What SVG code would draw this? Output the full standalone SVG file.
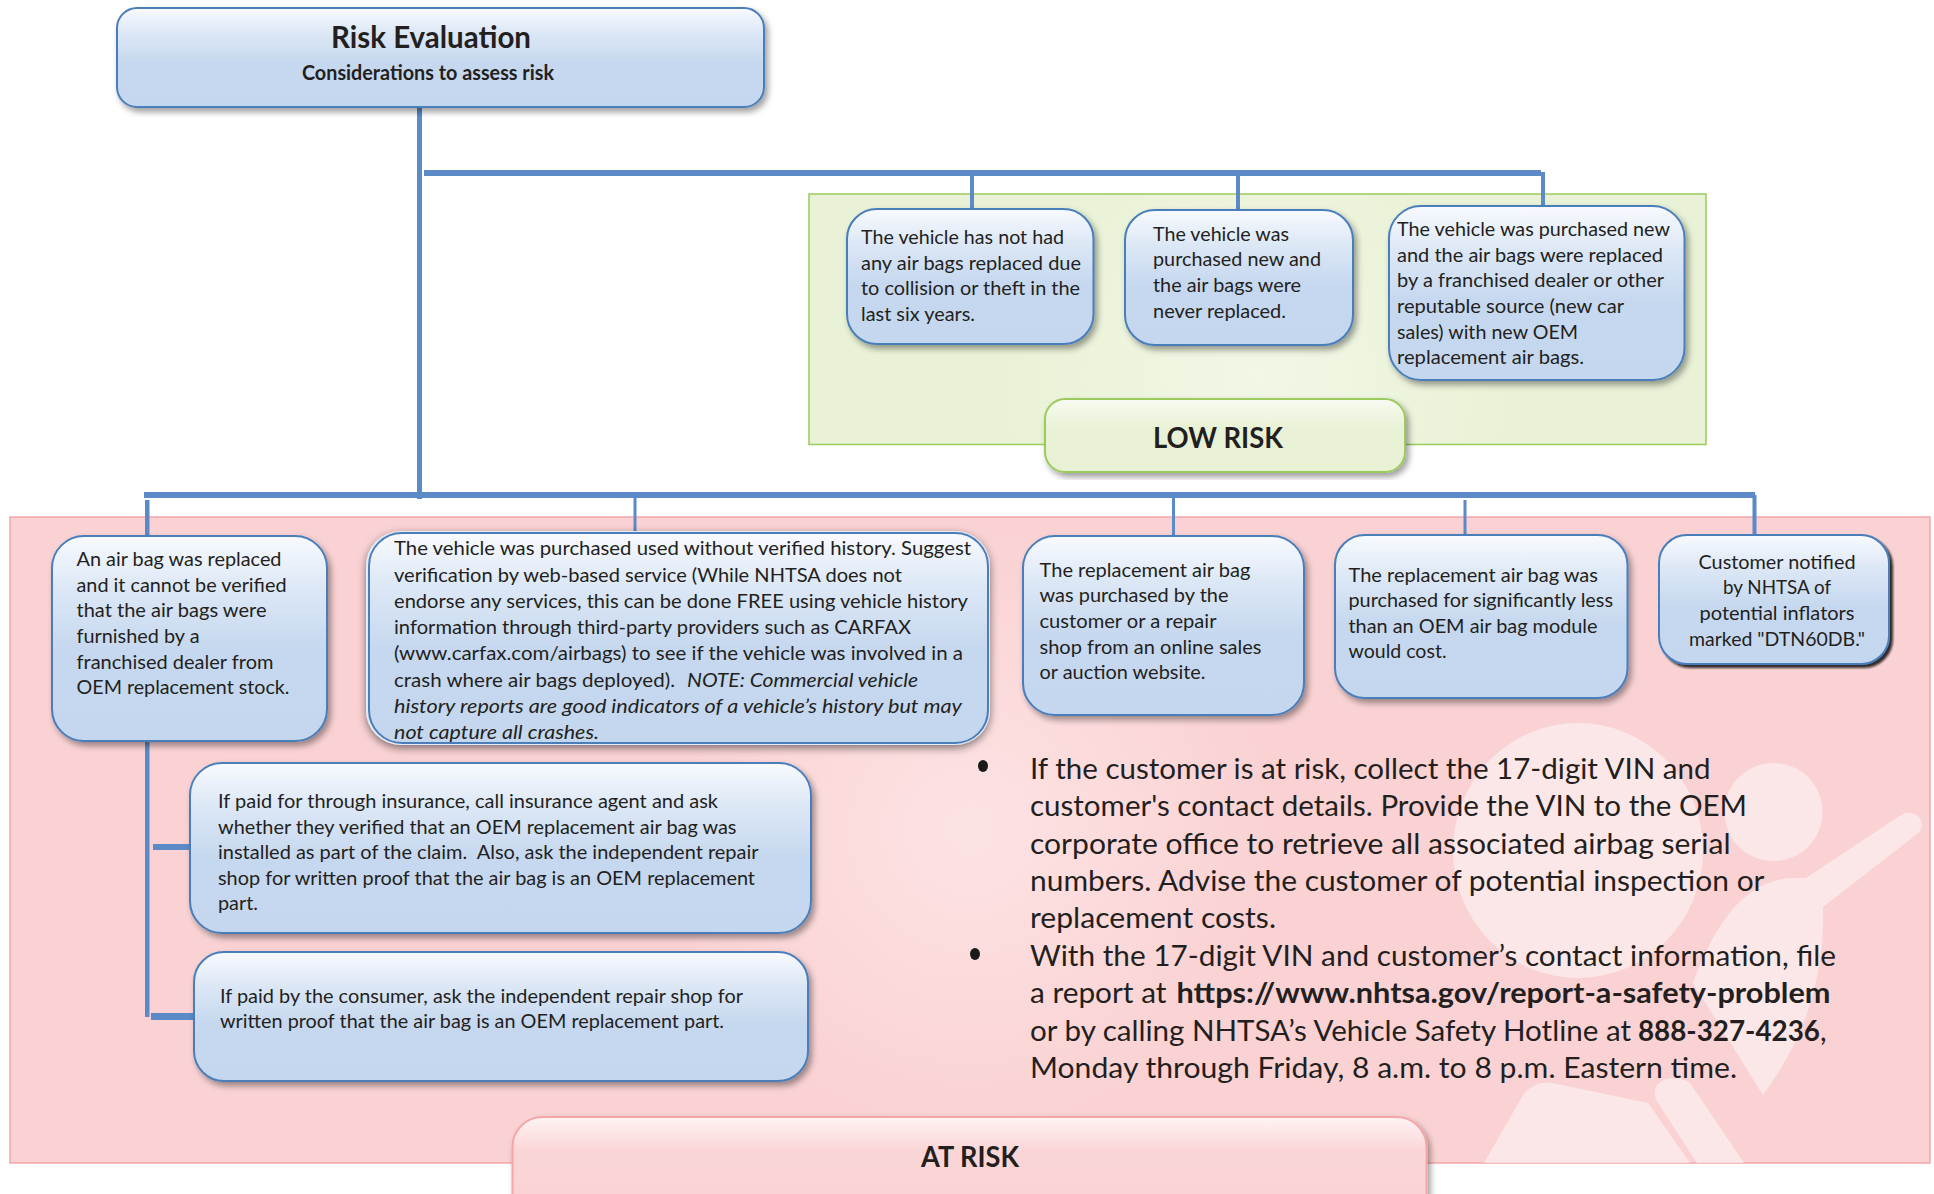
<svg xmlns="http://www.w3.org/2000/svg" width="1934" height="1194" viewBox="0 0 1934 1194">
<style>
text{font-family:Lato,"Open Sans",sans-serif;fill:#231f20;font-size:20px}
.box{fill:url(#blue);stroke:#4a7ebb;stroke-width:2;filter:url(#sh)}
.c{fill:#5b8ac6}
.big{font-size:29px}
.mid{text-anchor:middle}
.b{font-weight:700}
.i{font-style:italic}
.dec{fill:#fff;opacity:.48}
</style>
<defs>
<linearGradient id="blue" x1="0" y1="0" x2="0" y2="1"><stop offset="0" stop-color="#f8fafe"/><stop offset=".25" stop-color="#dde8f6"/><stop offset=".55" stop-color="#c6d8ef"/><stop offset="1" stop-color="#c4d7ee"/></linearGradient>
<linearGradient id="green" x1="0" y1="0" x2="0" y2="1"><stop offset="0" stop-color="#f8fbf2"/><stop offset=".4" stop-color="#e9f2d6"/><stop offset="1" stop-color="#e8f1d4"/></linearGradient>
<linearGradient id="pinkg" x1="0" y1="0" x2="0" y2="1"><stop offset="0" stop-color="#fef4f4"/><stop offset=".3" stop-color="#fbd6d7"/><stop offset="1" stop-color="#fad2d3"/></linearGradient>
<radialGradient id="gbg" gradientUnits="userSpaceOnUse" cx="1257" cy="375" r="250"><stop offset="0" stop-color="#f2f7e6"/><stop offset="1" stop-color="#e9f2d6"/></radialGradient>
<radialGradient id="pbg" gradientUnits="userSpaceOnUse" cx="970" cy="830" r="300"><stop offset="0" stop-color="#fde3e4"/><stop offset="1" stop-color="#fad2d3"/></radialGradient>
<filter id="sh" x="-5%" y="-5%" width="110%" height="115%"><feDropShadow dx="3" dy="4" stdDeviation="3" flood-color="#000" flood-opacity=".38"/></filter>
<filter id="shb" x="-5%" y="-5%" width="110%" height="115%"><feDropShadow dx="0" dy="3" stdDeviation="4.500" flood-color="#000" flood-opacity=".5"/></filter>
<filter id="shd" x="-5%" y="-5%" width="110%" height="115%"><feDropShadow dx="3" dy="3" stdDeviation="1.200" flood-color="#111" flood-opacity=".85"/></filter>
</defs>
<rect width="1934" height="1194" fill="#fff"/>
<g id="low-risk-panel"><rect x="809" y="194" width="897" height="250.500" fill="url(#gbg)" stroke="#9bcb5b" stroke-width="1.500"/></g>
<g id="at-risk-panel"><rect x="10" y="517" width="1920" height="646" fill="url(#pbg)" stroke="#f5a6a9" stroke-width="1.500"/>
<g id="watermark" class="dec">
<ellipse cx="1578" cy="850.500" rx="125" ry="127.500"/>
<circle cx="1773.500" cy="812" r="49"/>
<path d="M1806 878L1901 815Q1908 811 1915 814Q1922 818 1922 826Q1921 831 1917 834L1823 907Q1826 1010 1763 1095L1693 983Q1730 880 1793 878Z"/>
<path d="M1484 1163L1523 1095Q1535 1080 1552 1083L1648 1103L1690 1163Z"/>
<path d="M1658 1103Q1651 1092 1658 1084Q1672 1072 1690 1083L1744 1163H1697Z"/>
</g></g>
<g id="connectors">
<rect class="c" x="417" y="107" width="5" height="392"/>
<rect class="c" x="424" y="170" width="1117" height="6"/>
<rect class="c" x="970" y="173" width="4" height="37"/>
<rect class="c" x="1236" y="173" width="4" height="38"/>
<rect class="c" x="1541" y="172" width="4" height="34"/>
<rect class="c" x="144" y="492" width="1611" height="6"/>
<rect class="c" x="145" y="500" width="4.500" height="36"/>
<rect class="c" x="633.500" y="498" width="3" height="34"/>
<rect class="c" x="1172" y="498" width="3" height="38"/>
<rect class="c" x="1463.500" y="500" width="3" height="35"/>
<rect class="c" x="1752.500" y="495" width="4" height="40"/>
<rect class="c" x="145" y="741" width="4.500" height="276"/>
<rect class="c" x="153" y="844" width="37" height="6"/>
<rect class="c" x="151" y="1013" width="43" height="7"/>
</g>
<g id="risk-evaluation"><rect class="box" x="117" y="8" width="647" height="99" rx="20"/>
<text class="mid b" x="431" y="48" style="font-size:30px" textLength="200" lengthAdjust="spacingAndGlyphs">Risk Evaluation</text>
<text class="mid b" x="428" y="80" textLength="252" lengthAdjust="spacingAndGlyphs">Considerations to assess risk</text></g>
<g id="low1"><rect class="box" x="847" y="209" width="246.500" height="135" rx="30"/>
<text x="861" y="244" textLength="203" lengthAdjust="spacingAndGlyphs">The vehicle has not had</text><text x="861" y="270" textLength="220" lengthAdjust="spacingAndGlyphs">any air bags replaced due</text><text x="861" y="295" textLength="219" lengthAdjust="spacingAndGlyphs">to collision or theft in the</text><text x="861" y="321" textLength="114" lengthAdjust="spacingAndGlyphs">last six years.</text></g>
<g id="low2"><rect class="box" x="1125" y="210" width="228" height="135" rx="30"/>
<text x="1153" y="241" textLength="136" lengthAdjust="spacingAndGlyphs">The vehicle was</text><text x="1153" y="266" textLength="168" lengthAdjust="spacingAndGlyphs">purchased new and</text><text x="1153" y="292" textLength="148" lengthAdjust="spacingAndGlyphs">the air bags were</text><text x="1153" y="318" textLength="133" lengthAdjust="spacingAndGlyphs">never replaced.</text></g>
<g id="low3"><rect class="box" x="1389" y="206" width="295.500" height="174" rx="32"/>
<text x="1397" y="236" textLength="273" lengthAdjust="spacingAndGlyphs">The vehicle was purchased new</text><text x="1397" y="262" textLength="266" lengthAdjust="spacingAndGlyphs">and the air bags were replaced</text><text x="1397" y="287" textLength="267" lengthAdjust="spacingAndGlyphs">by a franchised dealer or other</text><text x="1397" y="313" textLength="227" lengthAdjust="spacingAndGlyphs">reputable source (new car</text><text x="1397" y="339" textLength="181" lengthAdjust="spacingAndGlyphs">sales) with new OEM</text><text x="1397" y="364" textLength="187" lengthAdjust="spacingAndGlyphs">replacement air bags.</text></g>
<g id="low-risk"><rect x="1045" y="399" width="360" height="73" rx="20" fill="url(#green)" stroke="#9bcb5b" stroke-width="2" filter="url(#sh)"/>
<text class="mid b" x="1218" y="448" style="font-size:28px" textLength="130" lengthAdjust="spacingAndGlyphs">LOW RISK</text></g>
<g id="risk1"><rect class="box" x="52" y="536" width="275" height="205" rx="32"/>
<text x="76.500" y="566" textLength="205" lengthAdjust="spacingAndGlyphs">An air bag was replaced</text><text x="76.500" y="592" textLength="210" lengthAdjust="spacingAndGlyphs">and it cannot be verified</text><text x="76.500" y="617" textLength="190" lengthAdjust="spacingAndGlyphs">that the air bags were</text><text x="76.500" y="643" textLength="123" lengthAdjust="spacingAndGlyphs">furnished by a</text><text x="76.500" y="669" textLength="197" lengthAdjust="spacingAndGlyphs">franchised dealer from</text><text x="76.500" y="694" textLength="213" lengthAdjust="spacingAndGlyphs">OEM replacement stock.</text></g>
<g id="risk2"><rect x="366" y="531" width="624" height="214" rx="35" fill="#e4ecf6" filter="url(#shb)"/><rect x="369" y="533" width="619" height="210" rx="33" fill="url(#blue)" stroke="#4a7ebb" stroke-width="2"/>
<text x="394" y="555" textLength="577" lengthAdjust="spacingAndGlyphs">The vehicle was purchased used without verified history. Suggest</text><text x="394" y="582" textLength="508" lengthAdjust="spacingAndGlyphs">verification by web-based service (While NHTSA does not</text><text x="394" y="608" textLength="574" lengthAdjust="spacingAndGlyphs">endorse any services, this can be done FREE using vehicle history</text><text x="394" y="634" textLength="517" lengthAdjust="spacingAndGlyphs">information through third-party providers such as CARFAX</text><text x="394" y="660" textLength="569" lengthAdjust="spacingAndGlyphs">(www.carfax.com/airbags) to see if the vehicle was involved in a</text><text x="394" y="687" textLength="281" lengthAdjust="spacingAndGlyphs">crash where air bags deployed).</text><text class="i" x="687" y="687" textLength="231" lengthAdjust="spacingAndGlyphs">NOTE: Commercial vehicle</text><text class="i" x="394" y="713" textLength="568" lengthAdjust="spacingAndGlyphs">history reports are good indicators of a vehicle’s history but may</text><text class="i" x="394" y="739" textLength="205" lengthAdjust="spacingAndGlyphs">not capture all crashes.</text></g>
<g id="risk3"><rect class="box" x="1023" y="536" width="281" height="179" rx="32"/>
<text x="1039.500" y="577" textLength="211" lengthAdjust="spacingAndGlyphs">The replacement air bag</text><text x="1039.500" y="602" textLength="189" lengthAdjust="spacingAndGlyphs">was purchased by the</text><text x="1039.500" y="628" textLength="177" lengthAdjust="spacingAndGlyphs">customer or a repair</text><text x="1039.500" y="654" textLength="222" lengthAdjust="spacingAndGlyphs">shop from an online sales</text><text x="1039.500" y="679" textLength="166" lengthAdjust="spacingAndGlyphs">or auction website.</text></g>
<g id="risk4"><rect class="box" x="1335" y="535" width="292.500" height="163" rx="30"/>
<text x="1348.500" y="582" textLength="249.500" lengthAdjust="spacingAndGlyphs">The replacement air bag was</text><text x="1348.500" y="607" textLength="264.500" lengthAdjust="spacingAndGlyphs">purchased for significantly less</text><text x="1348.500" y="633" textLength="249" lengthAdjust="spacingAndGlyphs">than an OEM air bag module</text><text x="1348.500" y="658" textLength="98" lengthAdjust="spacingAndGlyphs">would cost.</text></g>
<g id="risk5"><rect x="1659" y="535" width="230" height="129" rx="28" fill="url(#blue)" stroke="#4a7ebb" stroke-width="2" filter="url(#shd)"/>
<text class="mid" x="1777" y="569" textLength="157" lengthAdjust="spacingAndGlyphs">Customer notified</text><text class="mid" x="1777" y="594" textLength="108" lengthAdjust="spacingAndGlyphs">by NHTSA of</text><text class="mid" x="1777" y="620" textLength="155" lengthAdjust="spacingAndGlyphs">potential inflators</text><text class="mid" x="1777" y="646" textLength="176" lengthAdjust="spacingAndGlyphs">marked "DTN60DB."</text></g>
<g id="risk1a"><rect class="box" x="190" y="763" width="621" height="170" rx="32"/>
<text x="218" y="808" textLength="500" lengthAdjust="spacingAndGlyphs">If paid for through insurance, call insurance agent and ask</text><text x="218" y="834" textLength="518.500" lengthAdjust="spacingAndGlyphs">whether they verified that an OEM replacement air bag was</text><text x="218" y="859" textLength="540.500" lengthAdjust="spacingAndGlyphs">installed as part of the claim.&#160; Also, ask the independent repair</text><text x="218" y="885" textLength="537" lengthAdjust="spacingAndGlyphs">shop for written proof that the air bag is an OEM replacement</text><text x="218" y="910" textLength="40" lengthAdjust="spacingAndGlyphs">part.</text></g>
<g id="risk1b"><rect class="box" x="194" y="952" width="614" height="129" rx="30"/>
<text x="220" y="1003" textLength="523" lengthAdjust="spacingAndGlyphs">If paid by the consumer, ask the independent repair shop for</text><text x="220" y="1028" textLength="504" lengthAdjust="spacingAndGlyphs">written proof that the air bag is an OEM replacement part.</text></g>
<g id="advice">
<ellipse cx="983" cy="766" rx="5" ry="6" fill="#1a1a1a"/><ellipse cx="975" cy="954" rx="5" ry="6" fill="#1a1a1a"/>
<text class="big" x="1030" y="779" textLength="680.500" lengthAdjust="spacingAndGlyphs">If the customer is at risk, collect the 17-digit VIN and</text>
<text class="big" x="1030" y="816" textLength="717" lengthAdjust="spacingAndGlyphs">customer's contact details. Provide the VIN to the OEM</text>
<text class="big" x="1030" y="854" textLength="700.500" lengthAdjust="spacingAndGlyphs">corporate office to retrieve all associated airbag serial</text>
<text class="big" x="1030" y="891" textLength="734.500" lengthAdjust="spacingAndGlyphs">numbers. Advise the customer of potential inspection or</text>
<text class="big" x="1030" y="928" textLength="246" lengthAdjust="spacingAndGlyphs">replacement costs.</text>
<text class="big" x="1030" y="966" textLength="806" lengthAdjust="spacingAndGlyphs">With the 17-digit VIN and customer’s contact information, file</text>
<text class="big" x="1030" y="1003" textLength="136.500" lengthAdjust="spacingAndGlyphs">a report at</text><text class="big b" x="1176.500" y="1003" textLength="654" lengthAdjust="spacingAndGlyphs">https://www.nhtsa.gov/report-a-safety-problem</text>
<text class="big" x="1030" y="1041" textLength="601" lengthAdjust="spacingAndGlyphs">or by calling NHTSA’s Vehicle Safety Hotline at</text><text class="big b" x="1638" y="1041" textLength="182" lengthAdjust="spacingAndGlyphs">888-327-4236</text><text class="big" x="1820" y="1041">,</text>
<text class="big" x="1030" y="1078" textLength="707" lengthAdjust="spacingAndGlyphs">Monday through Friday, 8 a.m. to 8 p.m. Eastern time.</text>
</g>
<g id="at-risk"><rect x="512.500" y="1117" width="914" height="110" rx="30" fill="url(#pinkg)" stroke="#f5a6a9" stroke-width="2" filter="url(#sh)"/>
<text class="mid b" x="970" y="1167" style="font-size:28px" textLength="98" lengthAdjust="spacingAndGlyphs">AT RISK</text></g>
</svg>
